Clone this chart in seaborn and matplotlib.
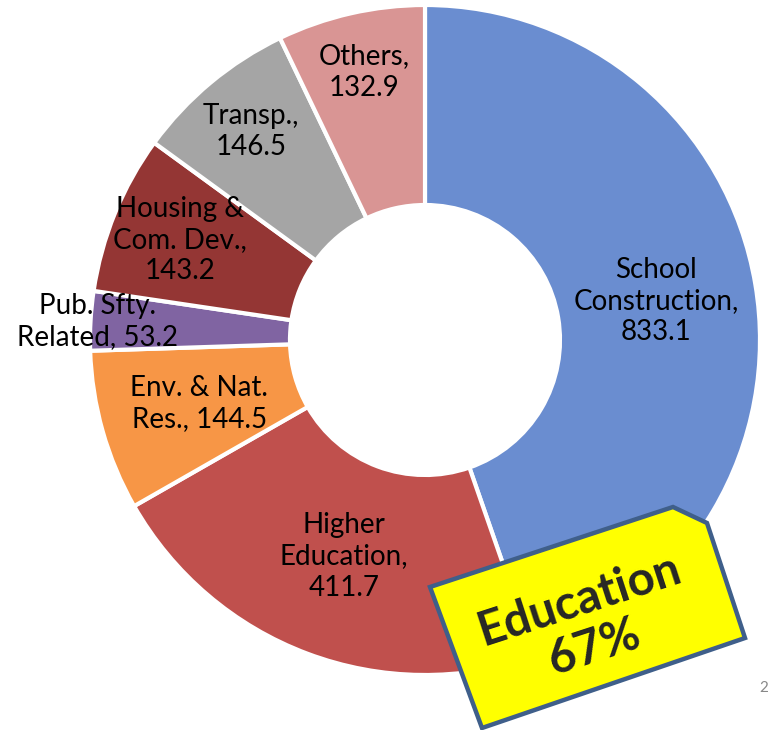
import numpy as np
import seaborn as sns
import matplotlib.pyplot as plt
from matplotlib.patches import Polygon

categories = ["School\nConstruction,", "Higher\nEducation,", "Env. & Nat.\nRes.,",
              "Pub. Sfty.\nRelated,", "Housing &\nCom. Dev.,", "Transp.,", "Others,"]
values = [833.1, 411.7, 144.5, 53.2, 143.2, 146.5, 132.9]
colors = ["#6a8dd0", "#c0504d", "#f79646", "#8064a2", "#943634", "#a5a5a5", "#d99594"]
# radial position of each label (fraction of outer radius)
label_r = [0.70, 0.69, 0.70, 0.98, 0.79, 0.81, 0.82]
label_sep = ["\n", "\n", " ", " ", "\n", "\n", "\n"]

sns.set_theme(style="white")
plt.rcParams["font.family"] = ["Lato", "DejaVu Sans"]

W, H = 769, 730
fig = plt.figure(figsize=(W / 100, H / 100), dpi=100)
ax = fig.add_axes([0, 0, 1, 1])

cx, cy, R = 425, H - 340, 335
wedges, _ = ax.pie(values, colors=colors, startangle=90, counterclock=False,
                   center=(cx, cy), radius=R, frame=True,
                   wedgeprops=dict(width=200, edgecolor="white", linewidth=3))
ax.set_xlim(0, W)
ax.set_ylim(0, H)
ax.set_aspect("equal")
ax.axis("off")

for w, lab, v, r, sep in zip(wedges, categories, values, label_r, label_sep):
    ang = np.deg2rad((w.theta1 + w.theta2) / 2)
    x = cx + r * R * np.cos(ang)
    y = cy + r * R * np.sin(ang)
    ax.text(x, y, f"{lab}{sep}{v}", ha="center", va="center", fontsize=20,
            linespacing=1.25, color="black")

# the yellow call-out box
box = [(430, 587), (673, 507), (707, 523), (745, 638), (482, 728)]
ax.add_patch(Polygon([(x, H - y) for x, y in box], closed=True, facecolor="#ffff00",
                     edgecolor="#3f5f8a", linewidth=3.2, zorder=5))
ax.text(587, H - 624, "Education\n67%", rotation=18, rotation_mode="anchor",
        ha="center", va="center", multialignment="center", fontsize=34,
        fontweight="bold", linespacing=1.15, zorder=6)

ax.text(768, H - 688, "2", fontsize=11, color="#888888", ha="right", va="center")

fig.savefig("out.png", dpi=100)
